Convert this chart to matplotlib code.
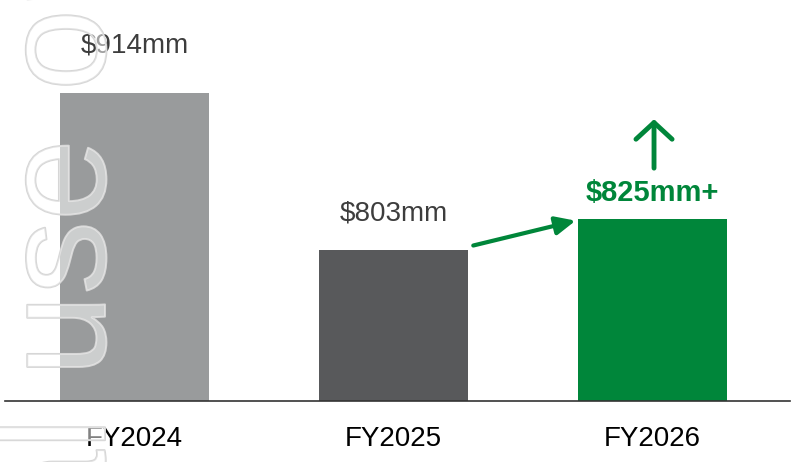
import matplotlib.pyplot as plt
import matplotlib.patheffects as pe

plt.rcParams['font.family'] = ['Liberation Sans', 'DejaVu Sans']

years = ["FY2024", "FY2025", "FY2026"]
values = [914, 803, 825]
labels = ["$914mm", "$803mm", "$825mm+"]
colors = ["#999b9c", "#58595b", "#00863a"]
green = "#00863a"

fig = plt.figure(figsize=(8.02, 4.62), dpi=100)
ax = fig.add_axes([5 / 802, 61 / 462, 785 / 802, 401 / 462])

width = 0.575
x = list(range(len(years)))
ax.bar(x, values, width=width, color=colors, zorder=2)

ax.set_xlim(-0.5, 2.53)
ax.set_ylim(697, 979.4)

# value labels
offsets = [34, 24, 12]
texts = []
for i, (v, lab) in enumerate(zip(values, labels)):
    last = i == len(values) - 1
    t = ax.annotate(lab, (x[i], v), xytext=(0, offsets[i]), textcoords="offset pixels",
                    ha="center", va="bottom", fontsize=21 if last else 20,
                    fontweight="bold" if last else "normal",
                    color=green if last else "#3d3d3d")
    texts.append(t)

# growth arrow between the last two bars
ax.annotate("", xy=(x[2] - width / 2 - 0.01, values[2] - 1),
            xytext=(x[1] + width / 2 + 0.02, values[1] + 3.5),
            arrowprops=dict(arrowstyle="-|>,head_length=1.2,head_width=0.55",
                            color=green, lw=3, shrinkA=0, shrinkB=0))

# up arrow above the last label
ax.annotate("", xy=(0.51, 1), xycoords=texts[-1],
            xytext=(0, 60), textcoords="offset pixels",
            arrowprops=dict(arrowstyle="<-,head_length=1.2,head_width=1.3",
                            color=green, lw=3.5, shrinkA=0, shrinkB=8,
                            capstyle="round", joinstyle="round"))

for s in ["top", "right", "left"]:
    ax.spines[s].set_visible(False)
ax.spines["bottom"].set_color("#333333")
ax.spines["bottom"].set_linewidth(1.2)
ax.set_yticks([])
ax.set_xticks(x)
ax.set_xticklabels(years, fontsize=20)
ax.tick_params(axis="x", length=0, pad=18)

# watermark
wm = dict(rotation=90, rotation_mode="anchor", ha="left", va="baseline",
          fontsize=106, color=(1, 1, 1, 0.3),
          path_effects=[pe.Stroke(linewidth=1.4, foreground="#d6d6d6"), pe.Normal()])
fig.text(105 / 802, -700 / 462, "For internal use", **wm)
fig.text(105 / 802, 371 / 462, "only", **wm)

fig.savefig("out.png", dpi=100)
